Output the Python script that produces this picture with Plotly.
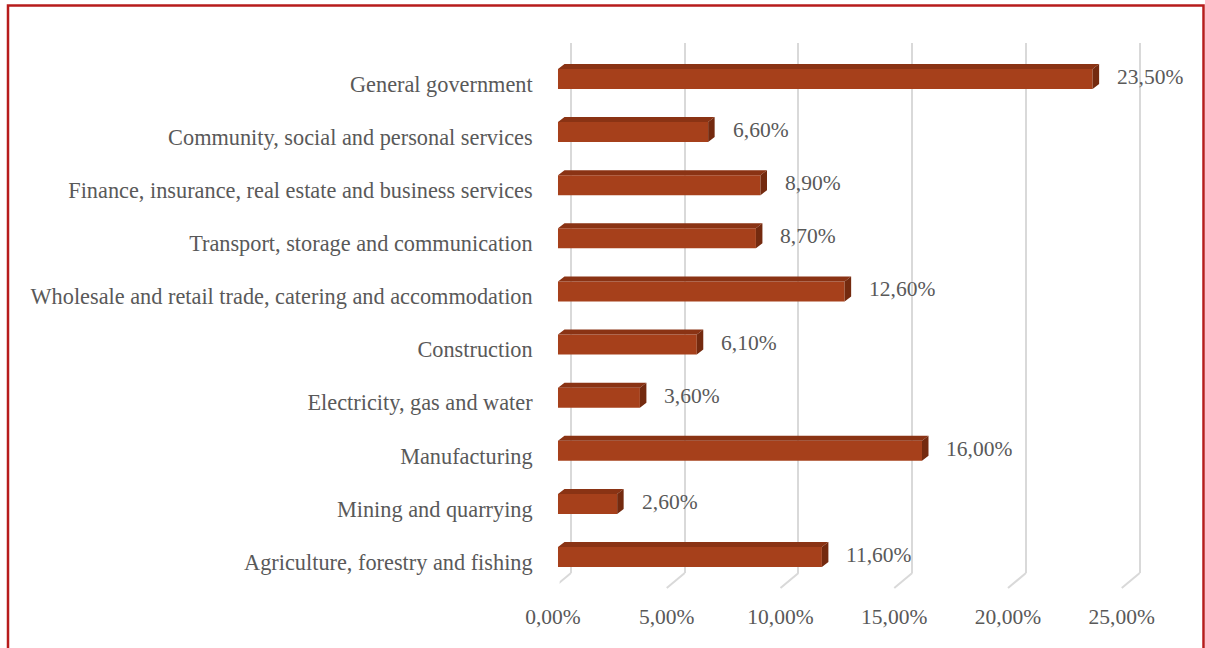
import plotly.graph_objects as go

# Sector shares (bottom to top as drawn)
categories = [
    "Agriculture, forestry and fishing",
    "Mining and quarrying",
    "Manufacturing",
    "Electricity, gas and water",
    "Construction",
    "Wholesale and retail trade, catering and accommodation",
    "Transport, storage and communication",
    "Finance, insurance, real estate and business services",
    "Community, social and personal services",
    "General government",
]
values = [11.6, 2.6, 16.0, 3.6, 6.1, 12.6, 8.7, 8.9, 6.6, 23.5]
tick_values = [0, 5, 10, 15, 20, 25]


def pct(v):
    return f"{v:.2f}".replace(".", ",") + "%"


tick_labels = [pct(t) for t in tick_values]

# ---- geometry of the pseudo-3D frame (pixels) ----
W, H = 1205, 648
PX_PER_PCT = 22.75          # horizontal scale
X_LO, X_HI = -0.5, 27.0     # shared value range
BACK_X0 = 571.0             # value 0 on the back wall
FRONT_X0 = 558.0            # value 0 on the bars' front face
BACK_TOP, BACK_BOTTOM = 42.7, 573.0
FLOOR_FRONT = 588.0
FLOOR_DX = -18.0
ROW_TOP, ROW_BOTTOM = 79.0, 557.0   # centres of top / bottom rows
DEPTH_DX, DEPTH_DY = 6.5, 5.0       # extrusion of each bar
BAR_FACE_PX = 20.0

n = len(categories)
row_px = (ROW_BOTTOM - ROW_TOP) / (n - 1)


def xdomain(origin):
    return [(origin + X_LO * PX_PER_PCT) / W, (origin + X_HI * PX_PER_PCT) / W]


def yfrac(py):
    return 1 - py / H


FRONT_COLOR = "#A6401B"
TOP_COLOR = "#8A3314"
SIDE_COLOR = "#742A0F"
TEXT_COLOR = "#595959"
GRID_COLOR = "#D9D9D9"
FONT = "Liberation Serif, Times New Roman, serif"

ys = list(range(n))
half = BAR_FACE_PX / row_px / 2
dx = DEPTH_DX / PX_PER_PCT
dy = DEPTH_DY / row_px

fig = go.Figure()

# back wall: gridlines only (subplot x/y)
fig.add_trace(go.Scatter(x=[None], y=[None], xaxis="x", yaxis="y",
                         showlegend=False, hoverinfo="skip"))

# top and side faces of the bars
top_x, top_y, side_x, side_y = [], [], [], []
for v, y in zip(values, ys):
    top_x += [0, v, v + dx, dx, 0, None]
    top_y += [y + half, y + half, y + half + dy, y + half + dy, y + half, None]
    side_x += [v, v + dx, v + dx, v, v, None]
    side_y += [y - half, y - half + dy, y + half + dy, y + half, y - half, None]

fig.add_trace(go.Scatter(x=top_x, y=top_y, xaxis="x2", yaxis="y2",
                         mode="lines", fill="toself", fillcolor=TOP_COLOR,
                         line=dict(width=0, color=TOP_COLOR),
                         showlegend=False, hoverinfo="skip"))
fig.add_trace(go.Scatter(x=side_x, y=side_y, xaxis="x2", yaxis="y2",
                         mode="lines", fill="toself", fillcolor=SIDE_COLOR,
                         line=dict(width=0, color=SIDE_COLOR),
                         showlegend=False, hoverinfo="skip"))

# front faces
fig.add_trace(go.Bar(x=values, y=ys, orientation="h", xaxis="x2", yaxis="y2",
                     width=2 * half, marker=dict(color=FRONT_COLOR, line=dict(width=0)),
                     showlegend=False, hoverinfo="skip"))

# value labels
for v, y in zip(values, ys):
    fig.add_annotation(x=v, y=y, xref="x2", yref="y2", text=pct(v),
                       showarrow=False, xanchor="left", yanchor="middle",
                       xshift=DEPTH_DX + 16, yshift=2,
                       font=dict(family=FONT, size=21.5, color=TEXT_COLOR))

# floor lines running from the back wall to the front edge
shapes = []
for t in tick_values:
    shapes.append(dict(type="line", xref="x", yref="paper",
                       xsizemode="pixel", xanchor=t, x0=0, x1=FLOOR_DX,
                       y0=yfrac(BACK_BOTTOM), y1=yfrac(FLOOR_FRONT),
                       line=dict(color=GRID_COLOR, width=2)))
# outer frame
shapes.append(dict(type="rect", xref="paper", yref="paper",
                   x0=8 / W, x1=1203.5 / W, y0=-0.05, y1=yfrac(5.5),
                   line=dict(color="#B71C1C", width=2.5), fillcolor="rgba(0,0,0,0)"))

fig.update_layout(
    width=W, height=H,
    margin=dict(l=0, r=0, t=0, b=0, pad=0, autoexpand=False),
    paper_bgcolor="white",
    plot_bgcolor="rgba(0,0,0,0)",
    showlegend=False,
    shapes=shapes,
    xaxis=dict(domain=xdomain(BACK_X0), range=[X_LO, X_HI], anchor="y",
               automargin=False,
               tickvals=tick_values, ticktext=tick_labels,
               showgrid=True, gridcolor=GRID_COLOR, gridwidth=2,
               zeroline=False, showline=False, ticks="",
               ticklabelshift=int(round(FRONT_X0 - BACK_X0 - 5.5)), ticklabelstandoff=28,
               tickfont=dict(family=FONT, size=21.5, color=TEXT_COLOR),
               fixedrange=True),
    yaxis=dict(domain=[yfrac(BACK_BOTTOM), yfrac(BACK_TOP)], range=[0, 1],
               anchor="x", automargin=False,
               showgrid=False, zeroline=False, showline=False,
               showticklabels=False, ticks="", fixedrange=True),
    xaxis2=dict(domain=xdomain(FRONT_X0), range=[X_LO, X_HI], anchor="y2",
                automargin=False,
                showgrid=False, zeroline=False, showline=False,
                showticklabels=False, ticks="", fixedrange=True),
    yaxis2=dict(domain=[yfrac(ROW_BOTTOM + row_px / 2), yfrac(ROW_TOP - row_px / 2)],
                range=[-0.5, n - 0.5], anchor="x2", automargin=False,
                tickvals=ys, ticktext=categories,
                showgrid=False, zeroline=False, showline=False, ticks="",
                ticklabelstandoff=13, ticklabelshift=5,
                tickfont=dict(family=FONT, size=22.3, color=TEXT_COLOR),
                fixedrange=True),
)

fig.write_html("out.html")
